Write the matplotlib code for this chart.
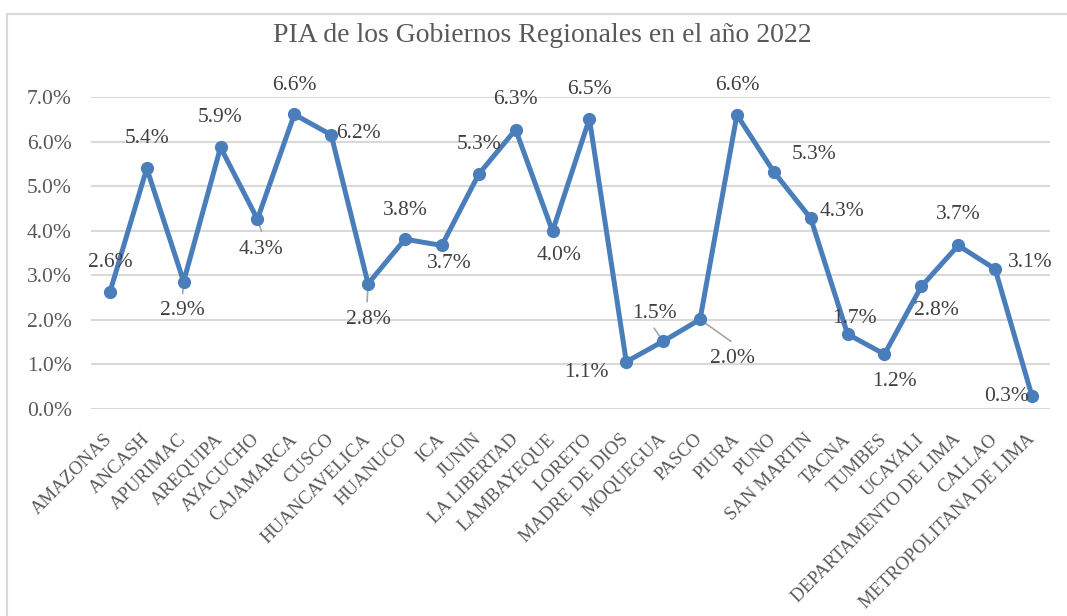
import matplotlib.pyplot as plt
import matplotlib.patches as patches
from matplotlib.ticker import PercentFormatter

plt.rcParams['font.family'] = ['Liberation Serif', 'DejaVu Serif']

regiones = ['AMAZONAS', 'ANCASH', 'APURIMAC', 'AREQUIPA', 'AYACUCHO', 'CAJAMARCA',
            'CUSCO', 'HUANCAVELICA', 'HUANUCO', 'ICA', 'JUNIN', 'LA LIBERTAD',
            'LAMBAYEQUE', 'LORETO', 'MADRE DE DIOS', 'MOQUEGUA', 'PASCO', 'PIURA',
            'PUNO', 'SAN MARTIN', 'TACNA', 'TUMBES', 'UCAYALI',
            'DEPARTAMENTO DE LIMA', 'CALLAO', 'METROPOLITANA DE LIMA']
pia = [0.0262, 0.0540, 0.0286, 0.0587, 0.0426, 0.0661, 0.0615, 0.0281, 0.0381,
       0.0367, 0.0527, 0.0627, 0.0399, 0.0651, 0.0106, 0.0152, 0.0201, 0.0660,
       0.0532, 0.0428, 0.0168, 0.0123, 0.0275, 0.0367, 0.0314, 0.0029]

# posicion de etiquetas (px, y hacia abajo) como en Excel
off = [(0, -30), (0, -30), (-1, 29), (0, -30), (4, 30), (0, -29), (27, -1),
       (0, 36), (0, -29), (7, 18), (0, -30), (0, -30), (7, 24), (0, -29),
       (-40, 11), (-9, -28), (32, 39), (0, -29), (40, -17), (31, -7), (7, -16),
       (10, 27), (15, 24), (0, -31), (35, -7), (-25, 0)]
# lineas guia
guias = {2: (-1, 12), 4: (4, 12), 7: (-1, 18), 15: (-9, -13), 16: (31, 22)}

azul = '#4a7ebb'
gris = '#595959'

fig = plt.figure(figsize=(10.67, 6.16), dpi=100)
ax = fig.add_axes([0.0857, 0.336, 0.8988, 0.5065])

x = list(range(len(regiones)))
ax.plot(x, pia, color=azul, lw=3.6, marker='o', ms=8.5, zorder=4)

for i, (k, v) in enumerate(zip(x, pia)):
    dx, dy = off[i]
    ax.annotate(f'{v*100:.1f}%', (k, v), xytext=(dx * 0.72, -dy * 0.72),
                textcoords='offset points', ha='center', va='center',
                fontsize=15.5, color='#404040', zorder=5)
for i, (dx, dy) in guias.items():
    ax.annotate('', (x[i], pia[i]), xytext=(dx * 0.72, -dy * 0.72),
                textcoords='offset points', zorder=1,
                arrowprops=dict(arrowstyle='-', color='#a6a6a6', lw=1.2,
                                shrinkA=0, shrinkB=0))

ax.set_xlim(-0.5, len(regiones) - 0.5)
ax.set_ylim(0, 0.07)
ax.set_yticks([i / 100 for i in range(8)])
ax.yaxis.set_major_formatter(PercentFormatter(1.0, decimals=1))
ax.grid(axis='y', color='#d9d9d9', lw=1.5, zorder=0)
ax.set_axisbelow(True)
for s in ax.spines.values():
    s.set_visible(False)
ax.tick_params(axis='both', length=0, colors=gris)
ax.tick_params(axis='y', labelsize=15.5, pad=14)
ax.set_xticks(x)
ax.set_xticklabels(regiones, rotation=45, ha='right', va='center',
                   rotation_mode='anchor', fontsize=13.5, color=gris)
ax.tick_params(axis='x', pad=20)

fig.text(0.508, 0.943, 'PIA de los Gobiernos Regionales en el año 2022',
         ha='center', va='center', fontsize=20, color=gris)

borde = patches.Rectangle((7 / 1067, -0.1), 1.2, 1 - 14 / 616 + 0.1,
                          transform=fig.transFigure, fill=False,
                          edgecolor='#d9d9d9', lw=1.5, clip_on=False)
fig.patches.append(borde)

fig.savefig('out.png', dpi=100)
